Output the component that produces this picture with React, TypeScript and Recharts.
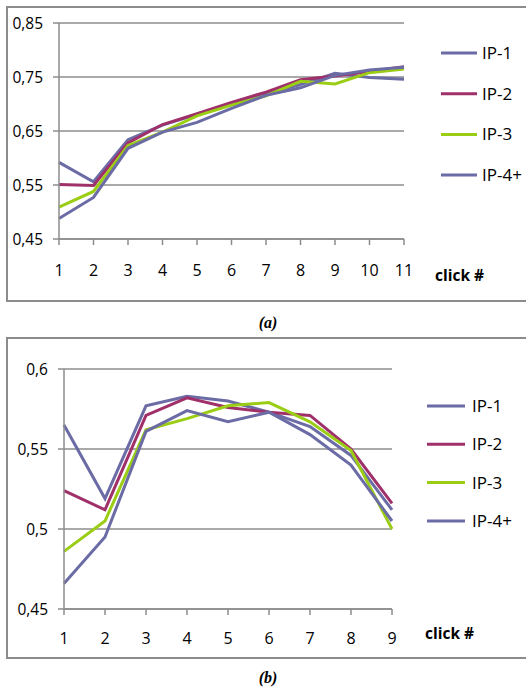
import React from 'react';
import { LineChart, Line, XAxis, YAxis, CartesianGrid, Legend } from 'recharts';

// chart (a): clicks 1..11
const clicksA = ['1', '2', '3', '4', '5', '6', '7', '8', '9', '10', '11'];
const ip1A = [0.592, 0.556, 0.634, 0.661, 0.681, 0.701, 0.719, 0.736, 0.757, 0.749, 0.746];
const ip2A = [0.551, 0.549, 0.628, 0.662, 0.682, 0.703, 0.722, 0.745, 0.752, 0.760, 0.769];
const ip3A = [0.509, 0.538, 0.623, 0.648, 0.678, 0.698, 0.715, 0.742, 0.737, 0.758, 0.765];
const ip4A = [0.488, 0.527, 0.618, 0.648, 0.666, 0.692, 0.716, 0.730, 0.753, 0.763, 0.768];
const ticksA = [0.45, 0.55, 0.65, 0.75, 0.85];

// chart (b): clicks 1..9
const clicksB = ['1', '2', '3', '4', '5', '6', '7', '8', '9'];
const ip1B = [0.565, 0.519, 0.577, 0.583, 0.580, 0.573, 0.564, 0.546, 0.512];
const ip2B = [0.524, 0.512, 0.571, 0.582, 0.576, 0.573, 0.571, 0.550, 0.516];
const ip3B = [0.486, 0.505, 0.562, 0.569, 0.577, 0.579, 0.567, 0.549, 0.500];
const ip4B = [0.466, 0.495, 0.561, 0.574, 0.567, 0.573, 0.559, 0.540, 0.505];
const ticksB = [0.45, 0.5, 0.55, 0.6];

const seriesNames = ['IP-1', 'IP-2', 'IP-3', 'IP-4+'];
const colors = ['#6b6ba6', '#a0306a', '#9acd14', '#6b6ba6'];

const font = '"Open Sans", sans-serif';
const grid = '#8c8c8c';

const build = (clicks: string[], s: number[][]) =>
  clicks.map((c, i) => ({ click: c, s0: s[0][i], s1: s[1][i], s2: s[2][i], s3: s[3][i] }));

const comma = (v: number) => String(v).replace('.', ',');

interface LegendProps {
  lineLen: number;
  gap: number;
  spacing: number;
}

// first row sits 20px below the legend's top edge
const makeLegend = ({ lineLen, gap, spacing }: LegendProps) => () => (
  <svg width={82} height={spacing * 4 + 14} style={{ display: 'block', overflow: 'visible' }}>
    {seriesNames.map((n, i) => (
      <g key={n} transform={`translate(0, ${spacing * i + 20})`}>
        <line x1={0} x2={lineLen} y1={0} y2={0} stroke={colors[i]} strokeWidth={3} />
        <text x={lineLen + gap} y={0} dy="0.35em" fontSize={17} fontFamily={font} fill="#000">
          {n}
        </text>
      </g>
    ))}
  </svg>
);

interface PanelProps {
  top: number;
  height: number;
  data: any[];
  ticks: number[];
  margin: { top: number; right: number; bottom: number; left: number };
  yWidth: number;
  tickMargin: number;
  legendPos: { left: number; top: number };
  legend: LegendProps;
  clickPos: { left: number; top: number };
  caption: string;
  captionTop: number;
  fmt: (v: number) => string;
}

const Panel: React.FC<PanelProps> = (p) => (
  <>
    <div
      style={{
        position: 'absolute', left: 6, top: p.top - 1, width: 530, height: p.height,
        border: `2px solid ${grid}`, boxSizing: 'border-box',
      }}
    />
    <div style={{ position: 'absolute', left: 7, top: p.top }}>
      <LineChart width={519} height={p.height - 2} data={p.data} margin={p.margin}>
        <CartesianGrid vertical={false} stroke={grid} strokeWidth={1.5} />
        <XAxis
          dataKey="click"
          stroke={grid}
          strokeWidth={1.5}
          tickSize={6}
          tickMargin={p.tickMargin}
          height={40}
          tick={{ fill: '#000', fontSize: 16, fontFamily: font }}
        />
        <YAxis
          domain={[p.ticks[0], p.ticks[p.ticks.length - 1]]}
          ticks={p.ticks}
          tickFormatter={p.fmt}
          width={p.yWidth}
          stroke={grid}
          strokeWidth={1.5}
          tickSize={6}
          tickMargin={10}
          tick={{ fill: '#000', fontSize: 15.5, fontFamily: font }}
        />
        <Legend
          layout="vertical"
          align="center"
          verticalAlign="middle"
          content={makeLegend(p.legend)}
          wrapperStyle={{ position: 'absolute', left: p.legendPos.left, top: p.legendPos.top - 10, width: 82 }}
        />
        {[0, 1, 2, 3].map((i) => (
          <Line
            key={i}
            dataKey={`s${i}`}
            name={seriesNames[i]}
            stroke={colors[i]}
            strokeWidth={3}
            dot={false}
            type="linear"
            isAnimationActive={false}
          />
        ))}
      </LineChart>
    </div>
    <div
      style={{
        position: 'absolute', left: p.clickPos.left, top: p.clickPos.top, fontFamily: font,
        fontWeight: 'bold', fontSize: 15.5, lineHeight: '20px', color: '#000',
      }}
    >
      click #
    </div>
    <div
      style={{
        position: 'absolute', left: 0, width: 536, top: p.captionTop, textAlign: 'center',
        fontFamily: '"Liberation Serif", serif', fontWeight: 'bold', fontStyle: 'italic',
        fontSize: 16, lineHeight: '20px', color: '#000',
      }}
    >
      {p.caption}
    </div>
  </>
);

export default function App() {
  const dataA = build(clicksA, [ip1A, ip2A, ip3A, ip4A]);
  const dataB = build(clicksB, [ip1B, ip2B, ip3B, ip4B]);
  return (
    <div style={{ position: 'absolute', left: 0, top: 0, width: 526, height: 690, overflow: 'hidden', background: '#fff' }}>
      <Panel
        top={7}
        height={296}
        data={dataA}
        ticks={ticksA}
        fmt={(v) => v.toFixed(2).replace('.', ',')}
        margin={{ top: 16, right: 122, bottom: 22, left: 7 }}
        yWidth={45}
        tickMargin={20}
        legendPos={{ left: 434, top: 36 }}
        legend={{ lineLen: 36, gap: 5, spacing: 40.7 }}
        clickPos={{ left: 435, top: 265 }}
        caption="(a)"
        captionTop={313}
      />
      <Panel
        top={338}
        height={322}
        data={dataB}
        ticks={ticksB}
        fmt={comma}
        margin={{ top: 31, right: 134, bottom: 9, left: 7 }}
        yWidth={50}
        tickMargin={18}
        legendPos={{ left: 420, top: 58 }}
        legend={{ lineLen: 38, gap: 7, spacing: 38.3 }}
        clickPos={{ left: 425, top: 623 }}
        caption="(b)"
        captionTop={668}
      />
    </div>
  );
}
